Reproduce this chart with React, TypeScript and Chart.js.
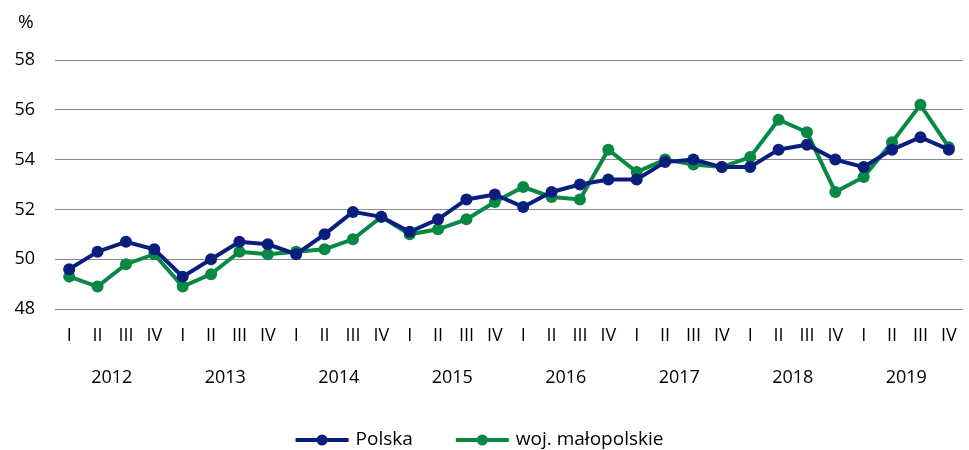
import React, { useEffect, useRef } from "react";
import { Chart, registerables } from "chart.js";

Chart.register(...registerables);

const quarters = [
  "I", "II", "III", "IV", "I", "II", "III", "IV",
  "I", "II", "III", "IV", "I", "II", "III", "IV",
  "I", "II", "III", "IV", "I", "II", "III", "IV",
  "I", "II", "III", "IV", "I", "II", "III", "IV",
];
const years = ["2012", "2013", "2014", "2015", "2016", "2017", "2018", "2019"];

const polska = [
  49.6, 50.3, 50.7, 50.4, 49.3, 50.0, 50.7, 50.6,
  50.2, 51.0, 51.9, 51.7, 51.1, 51.6, 52.4, 52.6,
  52.1, 52.7, 53.0, 53.2, 53.2, 53.9, 54.0, 53.7,
  53.7, 54.4, 54.6, 54.0, 53.7, 54.4, 54.9, 54.4,
];
const malopolskie = [
  49.3, 48.9, 49.8, 50.2, 48.9, 49.4, 50.3, 50.2,
  50.3, 50.4, 50.8, 51.7, 51.0, 51.2, 51.6, 52.3,
  52.9, 52.5, 52.4, 54.4, 53.5, 54.0, 53.8, 53.7,
  54.1, 55.6, 55.1, 52.7, 53.3, 54.7, 56.2, 54.5,
];

const NAVY = "#0a1f7d";
const GREEN = "#078844";
const FONT = "'Open Sans', sans-serif";

const percentAndLegendPlugin = {
  id: "percentAndLegend",
  afterDraw(chart: any) {
    const ctx = chart.ctx;
    ctx.save();
    ctx.font = `19px ${FONT}`;
    ctx.fillStyle = "#000";
    ctx.textAlign = "left";
    ctx.textBaseline = "middle";
    ctx.fillText("%", 18, 23);

    // legend
    ctx.font = `19px ${FONT}`;
    const items = chart.data.datasets.map((d: any) => ({ text: d.label, color: d.borderColor }));
    const lineW = 53;
    const gapText = 7;
    const gapItems = 43;
    const widths = items.map((it: any) => lineW + gapText + ctx.measureText(it.text).width);
    const total = widths.reduce((a: number, b: number) => a + b, 0) + gapItems * (items.length - 1);
    let x = (chart.width - total) / 2 - 5;
    const y = 440;
    items.forEach((it: any, i: number) => {
      ctx.strokeStyle = it.color;
      ctx.fillStyle = it.color;
      ctx.lineWidth = 4;
      ctx.beginPath();
      ctx.moveTo(x, y);
      ctx.lineTo(x + lineW, y);
      ctx.stroke();
      ctx.beginPath();
      ctx.arc(x + lineW / 2, y, 5.5, 0, Math.PI * 2);
      ctx.fill();
      ctx.fillStyle = "#000";
      ctx.fillText(it.text, x + lineW + gapText, y);
      x += widths[i] + gapItems;
    });
    ctx.restore();
  },
};

export default function App() {
  const ref = useRef<HTMLCanvasElement>(null);

  useEffect(() => {
    document.body.style.margin = "0";
    const chart = new Chart(ref.current!, {
      type: "line",
      data: {
        labels: quarters,
        datasets: [
          {
            label: "Polska",
            data: polska,
            borderColor: NAVY,
            backgroundColor: NAVY,
            borderWidth: 4,
            pointRadius: 6,
            pointBorderWidth: 0,
            pointBackgroundColor: NAVY,
            tension: 0,
            xAxisID: "x",
          },
          {
            label: "woj. małopolskie",
            data: malopolskie,
            borderColor: GREEN,
            backgroundColor: GREEN,
            borderWidth: 4,
            pointRadius: 6,
            pointBorderWidth: 0,
            pointBackgroundColor: GREEN,
            tension: 0,
            xAxisID: "x",
          },
        ],
      },
      options: {
        animation: false,
        responsive: false,
        maintainAspectRatio: false,
        layout: { padding: { top: 60, left: 14, right: -3, bottom: 50 } },
        scales: {
          x: {
            type: "category",
            offset: true,
            grid: { display: false },
            border: { display: false },
            ticks: {
              color: "#000",
              font: { family: FONT, size: 18 },
              padding: 8,
              autoSkip: false,
              maxRotation: 0,
            },
            afterFit: (s: any) => { s.height = 46; },
          },
          x2: {
            type: "category",
            labels: years,
            offset: true,
            position: "bottom",
            grid: { display: false },
            border: { display: false },
            ticks: {
              color: "#000",
              font: { family: FONT, size: 18 },
              padding: 4,
              autoSkip: false,
              maxRotation: 0,
            },
            afterFit: (s: any) => { s.height = 45; },
          },
          y: {
            min: 48,
            max: 58,
            border: { display: false },
            grid: { color: "#8a8a8a", lineWidth: 1, drawTicks: false },
            ticks: {
              stepSize: 2,
              color: "#000",
              font: { family: FONT, size: 18 },
              padding: 20,
            },
            afterFit: (s: any) => { s.width = 41; },
          },
        },
        plugins: {
          title: { display: false },
          tooltip: { enabled: false },
          legend: { display: false },
        },
      },
      plugins: [percentAndLegendPlugin],
    });
    return () => chart.destroy();
  }, []);

  return (
    <div style={{ width: 969, height: 450 }}>
      <canvas ref={ref} width={969} height={450} style={{ display: "block", width: 969, height: 450 }} />
    </div>
  );
}
